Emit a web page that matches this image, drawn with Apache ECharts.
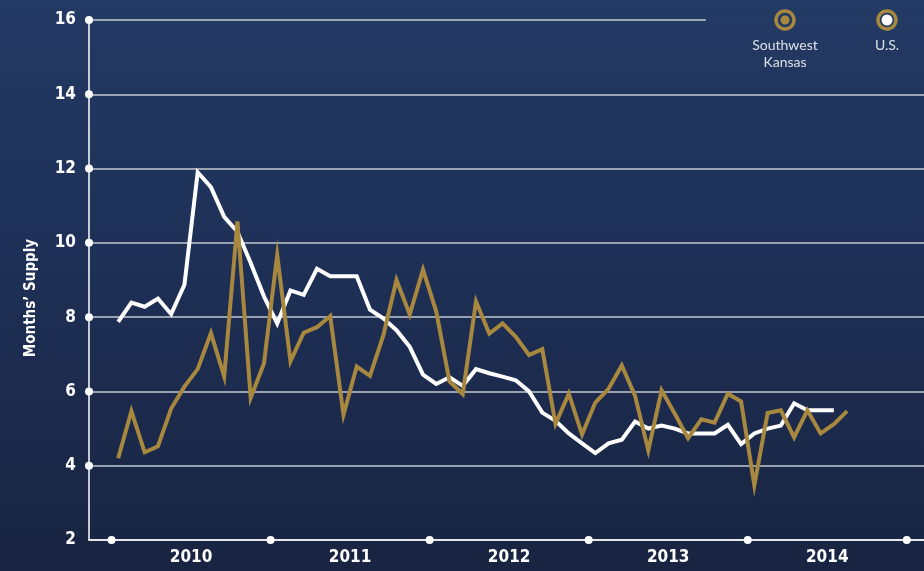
<!DOCTYPE html>
<html>
<head>
<meta charset="utf-8">
<script src="https://cdn.jsdelivr.net/npm/echarts@6/dist/echarts.min.js"></script>
<style>
  html, body { margin: 0; padding: 0; }
  #chart { width: 924px; height: 571px; }
</style>
</head>
<body>
<div id="chart"></div>
<script>
// months since Jan 2010
const years = ['2010', '2011', '2012', '2013', '2014']
const yTicks = [2, 4, 6, 8, 10, 12, 14, 16]
const seriesNames = ['Southwest Kansas', 'U.S.']

// Southwest Kansas, Jan 2010 - Aug 2014
const swKansas = [
  4.2, 5.47, 4.36, 4.52, 5.54, 6.13, 6.6, 7.57, 6.4, 10.58, 5.83, 6.75,
  9.67, 6.81, 7.58, 7.73, 8.03, 5.37, 6.67, 6.42, 7.5, 9.0, 8.07, 9.28,
  8.15, 6.27, 5.93, 8.42, 7.56, 7.83, 7.47, 6.98, 7.14, 5.13, 5.94, 4.84,
  5.7, 6.07, 6.7, 5.88, 4.41, 6.03, 5.4, 4.74, 5.25, 5.16, 5.94, 5.73,
  3.47, 5.42, 5.49, 4.76, 5.49, 4.87, 5.12, 5.47
]
// U.S., Jan 2010 - Jul 2014
const usSupply = [
  7.87, 8.39, 8.28, 8.5, 8.08, 8.87, 11.9, 11.5, 10.7, 10.3, 9.46, 8.56,
  7.83, 8.72, 8.6, 9.3, 9.1, 9.1, 9.1, 8.2, 7.97, 7.65, 7.2, 6.45,
  6.2, 6.38, 6.15, 6.6, 6.49, 6.4, 6.3, 6.0, 5.43, 5.21, 4.87, 4.6,
  4.34, 4.6, 4.7, 5.19, 5.0, 5.08, 5.0, 4.87, 4.87, 4.87, 5.1, 4.58,
  4.87, 5.0, 5.08, 5.68, 5.49, 5.49, 5.49
]

const gold = '#a8883f'
const xMin = -2.2
const xMax = 60.8
const labelFont = '"DejaVu Sans Condensed", "Liberation Sans Narrow", "Roboto Condensed", "DejaVu Sans", sans-serif'

const toPairs = arr => arr.map((v, i) => [i, v])
// dots on the axes: year boundaries on x, tick values on y
const yearEdges = years.map((y, k) => k * 12 - 0.5).concat([years.length * 12 - 0.5])
const yearMids = years.map((y, k) => k * 12 + 5.5)
const axisDots = yearEdges.map(x => [x, yTicks[0]])
  .concat(yTicks.slice(1).map(v => [xMin, v]))

const chart = echarts.init(document.getElementById('chart'))
chart.setOption({
  backgroundColor: new echarts.graphic.LinearGradient(0, 0, 0, 1, [
    { offset: 0, color: '#233a64' },
    { offset: 0.5, color: '#1e2f55' },
    { offset: 1, color: '#182441' }
  ]),
  animation: false,
  grid: { left: 89, right: 0, top: 20, bottom: 31 },
  xAxis: {
    type: 'value',
    min: xMin,
    max: xMax,
    splitLine: { show: false },
    axisLine: { show: true, onZero: false, lineStyle: { color: '#ffffff', width: 1.5 } },
    axisTick: { show: false },
    axisLabel: {
      customValues: yearMids,
      formatter: v => years[Math.round((v - 5.5) / 12)],
      color: '#ffffff',
      fontFamily: labelFont,
      fontWeight: 'bold',
      fontSize: 17,
      margin: 9
    }
  },
  yAxis: {
    type: 'value',
    min: 2,
    max: 16,
    interval: 2,
    name: 'Months’ Supply',
    nameLocation: 'middle',
    nameRotate: 90,
    nameGap: 50,
    nameTextStyle: {
      color: '#ffffff',
      fontFamily: labelFont,
      fontWeight: 'bold',
      fontSize: 15,
      padding: [0, 36, 0, 0]
    },
    axisLine: { show: true, onZero: false, lineStyle: { color: '#ffffff', width: 1.5 } },
    axisTick: { show: false },
    axisLabel: {
      color: '#ffffff',
      fontFamily: labelFont,
      fontWeight: 'bold',
      fontSize: 17,
      margin: 13
    },
    splitLine: { show: true, lineStyle: { color: '#c4c8d2', width: 1.5 } }
  },
  series: [
    {
      name: seriesNames[1],
      type: 'line',
      data: toPairs(usSupply),
      showSymbol: false,
      lineStyle: { color: '#ffffff', width: 4, join: 'miter' },
      z: 3
    },
    {
      name: seriesNames[0],
      type: 'line',
      data: toPairs(swKansas),
      showSymbol: false,
      lineStyle: { color: gold, width: 4, join: 'miter' },
      z: 4
    },
    {
      type: 'scatter',
      data: axisDots,
      symbolSize: 8,
      itemStyle: { color: '#ffffff', opacity: 1 },
      clip: false,
      silent: true,
      z: 5
    }
  ],
  graphic: [
    // hides the top grid line under the legend
    { type: 'rect', left: 706, top: 18, shape: { width: 218, height: 5 }, style: { fill: '#233a64' }, z: 50 },
    { type: 'circle', shape: { cx: 785, cy: 20, r: 9 }, style: { fill: 'none', stroke: gold, lineWidth: 3.5 }, z: 60 },
    { type: 'circle', shape: { cx: 785, cy: 20, r: 4.5 }, style: { fill: gold }, z: 60 },
    { type: 'circle', shape: { cx: 887, cy: 20, r: 9 }, style: { fill: 'none', stroke: gold, lineWidth: 3.5 }, z: 60 },
    { type: 'circle', shape: { cx: 887, cy: 20, r: 5.5 }, style: { fill: '#ffffff' }, z: 60 },
    {
      type: 'text', x: 785, y: 37, z: 60,
      style: {
        text: seriesNames[0].replace(' ', '\n'), align: 'center', verticalAlign: 'top',
        fill: '#dde0e6', font: '14px Lato', lineHeight: 17
      }
    },
    {
      type: 'text', x: 887, y: 37, z: 60,
      style: {
        text: seriesNames[1], align: 'center', verticalAlign: 'top',
        fill: '#dde0e6', font: '14px Lato', lineHeight: 17
      }
    }
  ]
})
</script>
</body>
</html>
